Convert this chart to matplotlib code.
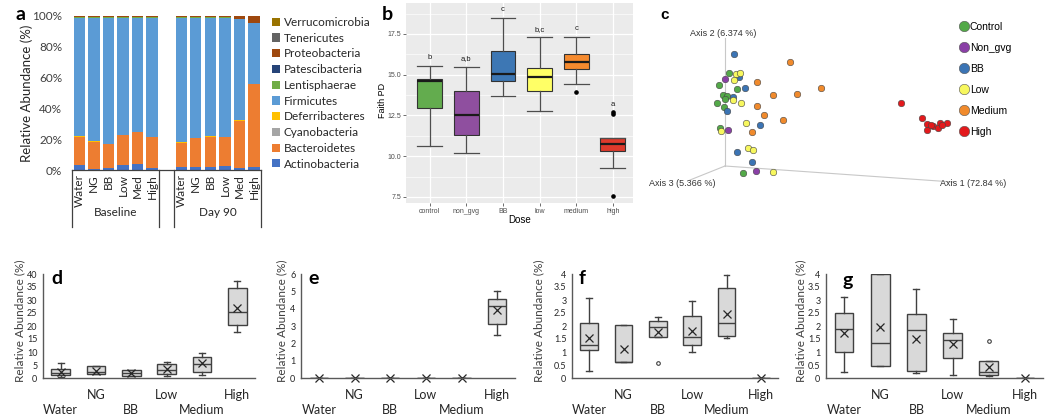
import matplotlib
matplotlib.use('Agg')
import matplotlib.pyplot as plt
from matplotlib.patches import Patch
from matplotlib.lines import Line2D
from matplotlib.ticker import FuncFormatter
import numpy as np

plt.rcParams['font.family'] = ['Lato', 'DejaVu Sans']

# ---- panel a: phylum relative abundance (%) ----
a_groups = ['Baseline', 'Day 90']
a_samples = ['Water', 'NG', 'BB', 'Low', 'Med', 'High']
phyla = ['Actinobacteria', 'Bacteroidetes', 'Cyanobacteria', 'Deferribacteres', 'Firmicutes',
         'Lentisphaerae', 'Patescibacteria', 'Proteobacteria', 'Tenericutes', 'Verrucomicrobia']
actino = [3.2, 0.6, 1.1, 3.2, 3.9, 1.1, 2.2, 1.9, 2.2, 2.6, 1.1, 2.2]
bactero = [18.4, 17.8, 15.8, 19.5, 20.6, 20.1, 15.5, 18.7, 19.4, 18.6, 30.9, 53.6]
cyano = [0.1, 0.1, 0.1, 0.1, 0.1, 0.1, 0.1, 0.1, 0.1, 0.1, 0.1, 0.1]
deferri = [0.1, 0.1, 0.1, 0.1, 0.1, 0.1, 0.1, 0.1, 0.1, 0.1, 0.1, 0.1]
firmi = [77.2, 80.4, 81.9, 76.1, 74.3, 77.6, 81.1, 78.2, 77.2, 77.6, 65.9, 39.2]
lentis = [0.1, 0.1, 0.1, 0.1, 0.1, 0.1, 0.1, 0.1, 0.1, 0.1, 0.1, 0.1]
patesc = [0.1, 0.1, 0.1, 0.1, 0.1, 0.1, 0.1, 0.1, 0.1, 0.1, 0.1, 0.1]
proteo = [0.6, 0.6, 0.6, 0.6, 0.6, 0.6, 0.6, 0.6, 0.6, 0.6, 1.5, 4.4]
teneri = [0.1, 0.1, 0.1, 0.1, 0.1, 0.1, 0.1, 0.1, 0.1, 0.1, 0.1, 0.1]
verruco = [0.1, 0.1, 0.1, 0.1, 0.1, 0.1, 0.1, 0.1, 0.1, 0.1, 0.1, 0.1]
phyla_colors = ['#4472C4', '#ED7D31', '#A5A5A5', '#FFC000', '#5B9BD5',
                '#70AD47', '#264478', '#9E480E', '#636363', '#997300']

# ---- panel b: Faith PD by dose ----
b_doses = ['control', 'non_gvg', 'BB', 'low', 'medium', 'high']
b_lo = [10.61, 10.2, 13.70, 12.80, 14.45, 9.25]
b_q1 = [12.93, 11.32, 14.63, 14.0, 15.38, 10.30]
b_med = [14.63, 12.54, 15.04, 14.88, 15.75, 10.73]
b_q3 = [14.74, 14.0, 16.44, 15.43, 16.26, 11.12]
b_hi = [15.53, 15.5, 18.48, 17.3, 17.32, 11.12]
b_out = [[], [], [], [], [13.96], [12.6, 12.7, 7.56]]
b_letters = ['b', 'a,b', 'c', 'b,c', 'c', 'a']
b_colors = ['#63AC4E', '#8F4F9F', '#3D77B4', '#FFFF66', '#F58A2E', '#DE3A2C']

# ---- panel c: PCoA (projected axis 1/2/3) ----
c_groups = ['Control', 'Non_gvg', 'BB', 'Low', 'Medium', 'High']
c_x = [
    [0.04, -0.06, 0.12, -0.02, 0.02, 0.00, -0.08, -0.01, -0.05, 0.18],
    [0.00, 0.03, 0.31],
    [0.09, 0.14, 0.20, 0.08, 0.02, 0.35, 0.12, 0.27],
    [0.11, 0.15, 0.09, 0.08, 0.16, 0.21, -0.04, 0.23, 0.28, 0.48],
    [0.65, 0.32, 0.96, 0.48, 0.72, 0.32, 0.39, 0.58, 0.27],
    [1.76, 1.97, 2.02, 2.08, 2.15, 2.22, 2.02, 2.13, 2.17, 2.06],
]
c_y = [
    [0.93, 0.81, 0.77, 0.71, 0.70, 0.67, 0.63, 0.59, 0.38, -0.07],
    [0.87, 0.36, -0.05],
    [1.12, 0.89, 0.78, 0.69, 0.55, 0.41, 0.14, 0.04],
    [0.92, 0.93, 0.86, 0.66, 0.63, 0.43, 0.35, 0.18, 0.16, -0.06],
    [1.04, 0.84, 0.78, 0.71, 0.72, 0.60, 0.51, 0.46, 0.34],
    [0.63, 0.48, 0.42, 0.40, 0.43, 0.43, 0.36, 0.38, 0.41, 0.41],
]
c_colors = ['#53A948', '#8A3FA6', '#3B74B4', '#F7F75E', '#F08A2C', '#E3191C']
c_axis_labels = ['Axis 1 (72.84 %)', 'Axis 2 (6.374 %)', 'Axis 3 (5.366 %)']

# ---- panels d-g: relative abundance (%) of single taxa ----
dg_groups = ['Water', 'NG', 'BB', 'Low', 'Medium', 'High']
d_lo = [0.3, 1.5, 0.9, 0.9, 1.15, 17.8]
d_q1 = [1.15, 1.5, 0.9, 1.5, 2.4, 20.4]
d_med = [2.0, 2.4, 1.9, 3.1, 5.3, 25.3]
d_q3 = [3.3, 4.6, 3.1, 5.3, 8.2, 34.5]
d_hi = [5.6, 4.6, 3.1, 6.0, 9.5, 37.3]
d_mean = [2.3, 2.8, 2.0, 3.3, 5.6, 26.8]
d_out = [[], [], [], [], [], []]

e_lo = [0, 0, 0, 0, 0, 2.48]
e_q1 = [0, 0, 0, 0, 0, 3.10]
e_med = [0, 0, 0, 0, 0, 4.17]
e_q3 = [0, 0, 0, 0, 0, 4.56]
e_hi = [0, 0, 0, 0, 0, 5.04]
e_mean = [0, 0, 0, 0, 0, 3.92]
e_out = [[], [], [], [], [], []]

f_lo = [0.27, 0.62, 1.56, 1.01, 1.52, 0]
f_q1 = [1.08, 0.62, 1.56, 1.27, 1.63, 0]
f_med = [1.27, 0.62, 1.97, 1.59, 2.10, 0]
f_q3 = [2.13, 2.04, 2.19, 2.38, 3.46, 0]
f_hi = [3.09, 2.04, 2.33, 2.97, 3.95, 0]
f_mean = [1.53, 1.12, 1.76, 1.81, 2.45, 0]
f_out = [[], [], [0.59], [], [], []]

g_lo = [0.23, 0.46, 0.19, 0.10, 0.08, 0]
g_q1 = [1.0, 0.46, 0.27, 0.78, 0.13, 0]
g_med = [1.89, 1.35, 1.85, 1.48, 0.23, 0]
g_q3 = [2.50, 4.0, 2.47, 1.74, 0.64, 0]
g_hi = [3.11, 4.0, 3.42, 2.27, 0.64, 0]
g_mean = [1.74, 1.96, 1.51, 1.32, 0.42, 0]
g_out = [[], [], [], [], [1.41], []]

W, H = 1050, 419
fig = plt.figure(figsize=(W / 100, H / 100), dpi=100)


def px_axes(x0, y0, x1, y1):
    return fig.add_axes([x0 / W, 1 - y1 / H, (x1 - x0) / W, (y1 - y0) / H])


def make_stats(lo, q1, med, q3, hi, mean=None, out=None):
    res = []
    for i in range(len(lo)):
        s = dict(whislo=lo[i], q1=q1[i], med=med[i], q3=q3[i], whishi=hi[i],
                 fliers=out[i] if out is not None else [])
        if mean is not None:
            s['mean'] = mean[i]
        res.append(s)
    return res


# ================= panel a =================
ax = px_axes(72, 16, 261.3, 170)
pos = [0, 1, 2, 3, 4, 5, 7, 8, 9, 10, 11, 12]
series = [actino, bactero, cyano, deferri, firmi, lentis, patesc, proteo, teneri, verruco]
bottom = np.zeros(len(pos))
handles = []
for name, vals, col in zip(phyla, series, phyla_colors):
    ax.bar(pos, vals, bottom=bottom, width=0.78, color=col, linewidth=0)
    bottom += np.array(vals)
    handles.append(Patch(facecolor=col, edgecolor='none', label=name))
ax.set_xlim(-0.5, 12.5)
ax.set_ylim(0, 100)
ax.set_yticks(range(0, 101, 20))
ax.set_yticklabels(['{}%'.format(v) for v in range(0, 101, 20)])
ax.tick_params(axis='y', length=0, pad=7, labelsize=8.5, labelcolor='#404040')
ax.set_xticks(pos)
ax.set_xticklabels(a_samples + a_samples, rotation=90, fontsize=8.5, color='#262626')
ax.tick_params(axis='x', length=0, pad=3)
for sp in ['top', 'right', 'left']:
    ax.spines[sp].set_visible(False)
ax.spines['bottom'].set_color('#404040')
ax.spines['bottom'].set_linewidth(0.9)
xt = ax.get_xaxis_transform()
for xs in [-0.5, 5.5, 6.5, 12.5]:
    ax.plot([xs, xs], [0, -0.37], transform=xt, color='#404040', lw=0.9, clip_on=False)
ax.text(2.5, -0.273, a_groups[0], transform=xt, ha='center', va='center', fontsize=8.5, color='#262626')
ax.text(9.5, -0.273, a_groups[1], transform=xt, ha='center', va='center', fontsize=8.5, color='#262626')
ax.set_ylabel('Relative Abundance (%)', fontsize=9.5, color='#262626')
ax.yaxis.set_label_coords(-0.206, 0.5)
fig.text(20 / W, 1 - 15 / H, 'a', fontsize=14, fontweight='bold', ha='center', va='center')
fig.legend(handles[::-1], phyla[::-1], loc='upper left', bbox_to_anchor=(272 / W, 1 - 17 / H),
           frameon=False, fontsize=8.5, handlelength=0.7, handleheight=0.7, handletextpad=0.3,
           labelspacing=0.4, borderpad=0, borderaxespad=0, labelcolor='#262626')

# ================= panel b =================
gg_font = ['Liberation Sans', 'DejaVu Sans']
ax = px_axes(406, 3, 633, 203)
ax.set_facecolor('#EBEBEB')
bstats = make_stats(b_lo, b_q1, b_med, b_q3, b_hi, out=b_out)
bp = ax.bxp(bstats, positions=range(1, 7), widths=0.68, capwidths=0.68, patch_artist=True,
            showfliers=True,
            boxprops=dict(edgecolor='#333333', linewidth=0.8),
            whiskerprops=dict(color='#4d4d4d', linewidth=0.9),
            capprops=dict(color='#4d4d4d', linewidth=0.9),
            medianprops=dict(color='#1a1a1a', linewidth=1.6),
            flierprops=dict(marker='o', markersize=2.3, markerfacecolor='black',
                            markeredgecolor='black'))
for patch, col in zip(bp['boxes'], b_colors):
    patch.set_facecolor(col)
for i, s in enumerate(bstats):
    top = max([s['whishi']] + list(s['fliers']))
    ax.text(i + 1, top + 0.5, b_letters[i], ha='center', va='center', fontsize=5.5,
            color='#1a1a1a', family=gg_font)
ax.set_xlim(0.35, 6.55)
ax.set_ylim(7.13, 19.4)
ax.set_yticks([7.5, 10, 12.5, 15, 17.5])
ax.set_yticklabels(['7.5', '10.0', '12.5', '15.0', '17.5'], family=gg_font)
ax.set_yticks([8.75, 11.25, 13.75, 16.25, 18.75], minor=True)
ax.set_xticks(range(1, 7))
ax.set_xticklabels(b_doses, family=gg_font)
ax.grid(which='major', color='white', linewidth=0.9)
ax.grid(which='minor', axis='y', color='white', linewidth=0.45)
ax.set_axisbelow(True)
ax.tick_params(which='major', length=2, width=0.5, color='#333333', labelsize=5,
               labelcolor='#4d4d4d', pad=1.5)
ax.tick_params(which='minor', length=0)
for sp in ax.spines.values():
    sp.set_visible(False)
ax.set_xlabel('Dose', fontsize=7, family=gg_font)
ax.xaxis.set_label_coords(0.5, -0.058)
ax.set_ylabel('Faith PD', fontsize=6.5, family=gg_font)
ax.yaxis.set_label_coords(-0.082, 0.515)
fig.text(387 / W, 1 - 15 / H, 'b', fontsize=14, fontweight='bold', ha='center', va='center')

# ================= panel c =================
ax = px_axes(640, 0, 1050, 200)
ax.set_xlim(-0.85, 3.25)
ax.set_ylim(-0.34, 1.66)
ax.axis('off')
ax.plot([0, 2.28], [0, -0.16], color='#c8c8c8', lw=0.8)
ax.plot([0, 0], [0, 1.28], color='#c8c8c8', lw=0.8)
ax.plot([0, -0.35], [0, -0.14], color='#c8c8c8', lw=0.8)
ax.text(2.48, -0.18, c_axis_labels[0], ha='center', va='center', fontsize=6.5,
        color='#333333', family=gg_font)
ax.text(-0.02, 1.32, c_axis_labels[1], ha='center', va='center', fontsize=6.5,
        color='#333333', family=gg_font)
ax.text(-0.43, -0.18, c_axis_labels[2], ha='center', va='center', fontsize=6.5,
        color='#333333', family=gg_font)
c_handles = []
for name, xs, ys, col in zip(c_groups, c_x, c_y, c_colors):
    ax.scatter(xs, ys, s=22, color=col, edgecolor='#444444', linewidth=0.4, zorder=3)
    c_handles.append(Line2D([], [], marker='o', ls='none', markersize=7.5, markerfacecolor=col,
                            markeredgecolor='#555555', markeredgewidth=0.4, label=name))
leg_c = fig.legend(handles=c_handles, loc='upper left', bbox_to_anchor=(961 / W, 1 - 22 / H),
                   frameon=False, fontsize=7.5, handlelength=0.6, handletextpad=0.25,
                   labelspacing=1.05, borderpad=0, borderaxespad=0)
for t in leg_c.get_texts():
    t.set_family(gg_font)
fig.text(665 / W, 1 - 15 / H, 'c', fontsize=11, fontweight='bold', ha='center', va='center',
         family=gg_font)


# ================= panels d-g =================
def taxon_panel(box, letter, letter_xy, stats, ymax, ystep, label_x):
    x0, x1 = box
    ax = px_axes(x0, 274, x1, 378)
    bp = ax.bxp(stats, positions=range(1, 7), widths=0.52, capwidths=0.17, patch_artist=True,
                showmeans=True, showfliers=True,
                boxprops=dict(facecolor='#D9D9D9', edgecolor='#404040', linewidth=1.0),
                whiskerprops=dict(color='#404040', linewidth=1.0),
                capprops=dict(color='#404040', linewidth=1.0),
                medianprops=dict(color='#404040', linewidth=1.0),
                meanprops=dict(marker='x', markersize=6, markeredgecolor='#262626',
                               markeredgewidth=0.9),
                flierprops=dict(marker='o', markersize=2.6, markerfacecolor='white',
                                markeredgecolor='#404040', markeredgewidth=0.8))
    for m in bp['means']:
        m.set_clip_on(False)
    ax.set_xlim(0.5, 6.5)
    ax.set_ylim(0, ymax)
    ticks = np.arange(0, ymax + ystep / 2, ystep)
    ax.set_yticks(ticks)
    ax.yaxis.set_major_formatter(FuncFormatter(lambda v, p: '{:g}'.format(v)))
    ax.set_xticks(range(1, 7))
    ax.set_xticklabels(['\n' + g if i % 2 == 0 else g for i, g in enumerate(dg_groups)])
    ax.tick_params(axis='x', length=0, pad=8, labelsize=9, labelcolor='#262626')
    ax.tick_params(axis='y', length=0, pad=4, labelsize=6.5, labelcolor='#262626')
    for lab in ax.get_xticklabels():
        lab.set_linespacing(1.25)
    for sp in ['top', 'right']:
        ax.spines[sp].set_visible(False)
    for sp in ['left', 'bottom']:
        ax.spines[sp].set_color('#595959')
        ax.spines[sp].set_linewidth(1.0)
    ax.set_ylabel('Relative Abundance (%)', fontsize=8.5, color='#404040')
    ax.yaxis.set_label_coords(label_x, 0.55)
    ax.text(letter_xy[0], letter_xy[1], letter, transform=ax.transAxes, fontsize=14,
            fontweight='bold', ha='center', va='center')
    return ax


taxon_panel((43, 255), 'd', (0.066, 0.96), make_stats(d_lo, d_q1, d_med, d_q3, d_hi, d_mean, d_out),
            40, 5, -0.085)
taxon_panel((301, 515), 'e', (0.061, 0.96), make_stats(e_lo, e_q1, e_med, e_q3, e_hi, e_mean, e_out),
            6, 1, -0.063)
taxon_panel((572, 778), 'f', (0.049, 0.96), make_stats(f_lo, f_q1, f_med, f_q3, f_hi, f_mean, f_out),
            4, 0.5, -0.135)
taxon_panel((826, 1043), 'g', (0.10, 0.94), make_stats(g_lo, g_q1, g_med, g_q3, g_hi, g_mean, g_out),
            4, 0.5, -0.09)

fig.savefig('out.png', dpi=100)
